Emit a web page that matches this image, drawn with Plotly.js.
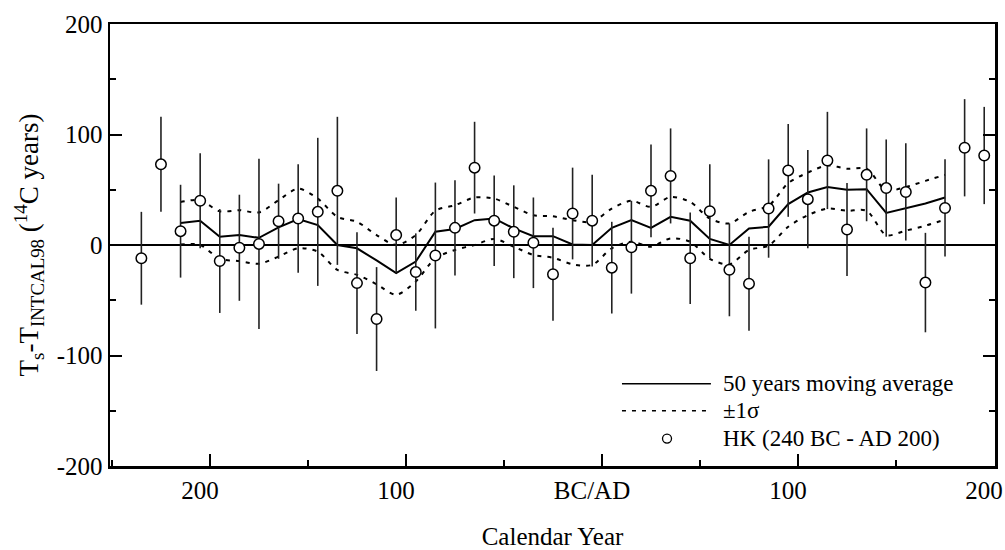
<!DOCTYPE html>
<html>
<head>
<meta charset="utf-8">
<script src="https://cdn.plot.ly/plotly-3.0.1.min.js"></script>
<style>
  html, body { margin: 0; padding: 0; background: #fff; }
  #chart { width: 1005px; height: 550px; }
</style>
</head>
<body>
<div id="chart"></div>
<script>
// ---- Data (calendar year: BC negative, AD positive) ----
const hkYears = [-235, -225, -215, -205, -195, -185, -175, -165, -155, -145,
                 -135, -125, -115, -105, -95, -85, -75, -65, -55, -45,
                 -35, -25, -15, -5, 5, 15, 25, 35, 45, 55,
                 65, 75, 85, 95, 105, 115, 125, 135, 145, 155,
                 165, 175, 185, 195];
const hkValues = [-12, 73, 12.5, 40, -14.5, -2.5, 1, 21.5, 24, 30,
                  49, -34.5, -67, 9, -24.5, -9.5, 15.5, 70, 22, 12,
                  2, -26.5, 28.5, 22, -20.5, -2, 49, 62.5, -12, 30.5,
                  -22.5, -35, 33, 67.5, 41.5, 76.5, 14, 63.5, 51.5, 48,
                  -34, 33.5, 88, 81];
const hkErrors = [42, 43, 42, 43, 47, 48, 77, 34, 49, 67,
                  67, 46, 47, 34, 35, 66, 43, 41.5, 41, 42,
                  41, 42, 41.5, 41.5, 41.5, 42, 42, 43, 41.5, 42.5,
                  42, 42.5, 44.5, 42, 44.5, 44, 42, 42, 44, 44,
                  45, 44, 44, 44];

const avgYears = [-215, -205, -195, -185, -175, -165, -155, -145, -135, -125,
                  -115, -105, -95, -85, -75, -65, -55, -45, -35, -25,
                  -15, -5, 5, 15, 25, 35, 45, 55, 65, 75,
                  85, 95, 105, 115, 125, 135, 145, 155, 165, 175];
const movingAvg = [20, 22, 7.5, 9, 6.5, 16, 23.5, 18, 0, -3,
                   -14, -25.5, -15, 12, 14.5, 22.5, 24, 15, 8, 8,
                   0.5, 0, 15.5, 22.5, 15.5, 25.5, 22, 5.5, 0, 15,
                   16.5, 37, 47.5, 52.5, 50, 50.5, 29, 33, 37.5, 43];
const upperSigma = [39, 40.5, 30.5, 31.5, 29.5, 40.5, 51, 42, 25.5, 21,
                    9, 0, 9, 31, 36, 43, 42, 34.5, 27, 26,
                    22.5, 21, 33, 40, 34.5, 43.5, 39, 24, 19.5, 30,
                    35.5, 56, 65.5, 72, 69, 69, 49.5, 52.5, 58, 63.5];
const lowerSigma = [0.5, 0, -12.5, -14.5, -17, -10.5, -3, -6, -22.5, -27,
                    -35.5, -45, -33, -12, -4.5, 0, 5.5, -1.5, -9, -11.5,
                    -17.5, -18, -3, 3, -1.5, 6, 3, -12.5, -17.5, -4.5,
                    -0.5, 16.5, 27, 33, 31, 31, 9, 13, 17.5, 23];

const xTickVals = [-200, -100, 0, 100, 200];
const xTickText = ['200', '100', 'BC/AD', '100', '200'];
const yTickVals = [-200, -100, 0, 100, 200];
const yTickText = ['-200', '-100', '0', '100', '200'];
const legendLabels = ['50 years moving average', '\u00b11\u03c3', 'HK (240 BC - AD 200)'];

const FONT = 'Liberation Serif, Times New Roman, serif';

const traces = [
  { x: avgYears, y: upperSigma, mode: 'lines', type: 'scatter', hoverinfo: 'skip',
    line: { color: '#000', width: 2, dash: '4px,6px', shape: 'spline', smoothing: 0.8 } },
  { x: avgYears, y: lowerSigma, mode: 'lines', type: 'scatter', hoverinfo: 'skip',
    line: { color: '#000', width: 2, dash: '4px,6px', shape: 'spline', smoothing: 0.8 } },
  { x: avgYears, y: movingAvg, mode: 'lines', type: 'scatter',
    line: { color: '#000', width: 2 } },
  { x: hkYears, y: hkValues, mode: 'markers', type: 'scatter',
    error_y: { type: 'data', array: hkErrors, visible: true, color: '#222', thickness: 1.6, width: 0 },
    marker: { symbol: 'circle', size: 10.5, color: '#fff', line: { color: '#000', width: 1.5 } } }
];

// legend drawn by hand (long line samples as in the original)
const lx0 = 0.5785, lx1 = 0.679, ltx = 0.6915;
const lyRows = [0.186, 0.125, 0.062];

const layout = {
  width: 1005, height: 550,
  margin: { l: 110, r: 10, t: 24, b: 84 },
  paper_bgcolor: '#fff', plot_bgcolor: '#fff',
  showlegend: false,
  font: { family: FONT, size: 25, color: '#000' },
  xaxis: {
    range: [-251, 200.5],
    tickvals: xTickVals, ticktext: xTickText,
    ticks: 'inside', ticklen: 12, tickwidth: 2, tickcolor: '#000',
    minor: { dtick: 50, tick0: 0, ticks: 'inside', ticklen: 6, tickwidth: 2, tickcolor: '#000' },
    showgrid: false, zeroline: false,
    showline: true, linewidth: 2.5, linecolor: '#000', mirror: true,
    tickfont: { family: FONT, size: 25 },
    ticklabelshift: -10, ticklabeloverflow: 'allow',
    title: { text: 'Calendar Year', font: { family: FONT, size: 25 }, standoff: 30 }
  },
  yaxis: {
    range: [-200, 200],
    tickvals: yTickVals, ticktext: yTickText,
    ticks: 'inside', ticklen: 12, tickwidth: 2, tickcolor: '#000',
    minor: { dtick: 50, tick0: 0, ticks: 'inside', ticklen: 6, tickwidth: 2, tickcolor: '#000' },
    showgrid: false,
    zeroline: true, zerolinecolor: '#000', zerolinewidth: 1.2,
    showline: true, linewidth: 2.5, linecolor: '#000', mirror: 'ticks',
    tickfont: { family: FONT, size: 25 },
    title: { text: 'T<sub>s</sub>-T<sub>INTCAL98</sub> (<sup>14</sup>C years)', font: { family: FONT, size: 27 }, standoff: 10 }
  },
  shapes: [
    { type: 'line', xref: 'paper', yref: 'paper', x0: lx0, x1: lx1, y0: lyRows[0], y1: lyRows[0],
      line: { color: '#000', width: 1.6 } },
    { type: 'line', xref: 'paper', yref: 'paper', x0: lx0, x1: lx1, y0: lyRows[1], y1: lyRows[1],
      line: { color: '#000', width: 1.6, dash: '4px,6px' } },
    { type: 'circle', xref: 'paper', yref: 'paper', xsizemode: 'pixel', ysizemode: 'pixel',
      xanchor: 0.6294, yanchor: lyRows[2], x0: -4.5, x1: 4.5, y0: -4.5, y1: 4.5,
      line: { color: '#000', width: 1.3 }, fillcolor: '#fff' }
  ],
  annotations: legendLabels.map((t, i) => ({
    text: t, xref: 'paper', yref: 'paper', x: ltx, y: lyRows[i],
    xanchor: 'left', yanchor: 'middle', showarrow: false, borderpad: 0,
    font: { family: FONT, size: 23, color: '#000' }
  }))
};

Plotly.newPlot('chart', traces, layout, { displayModeBar: false, staticPlot: true });
</script>
</body>
</html>
